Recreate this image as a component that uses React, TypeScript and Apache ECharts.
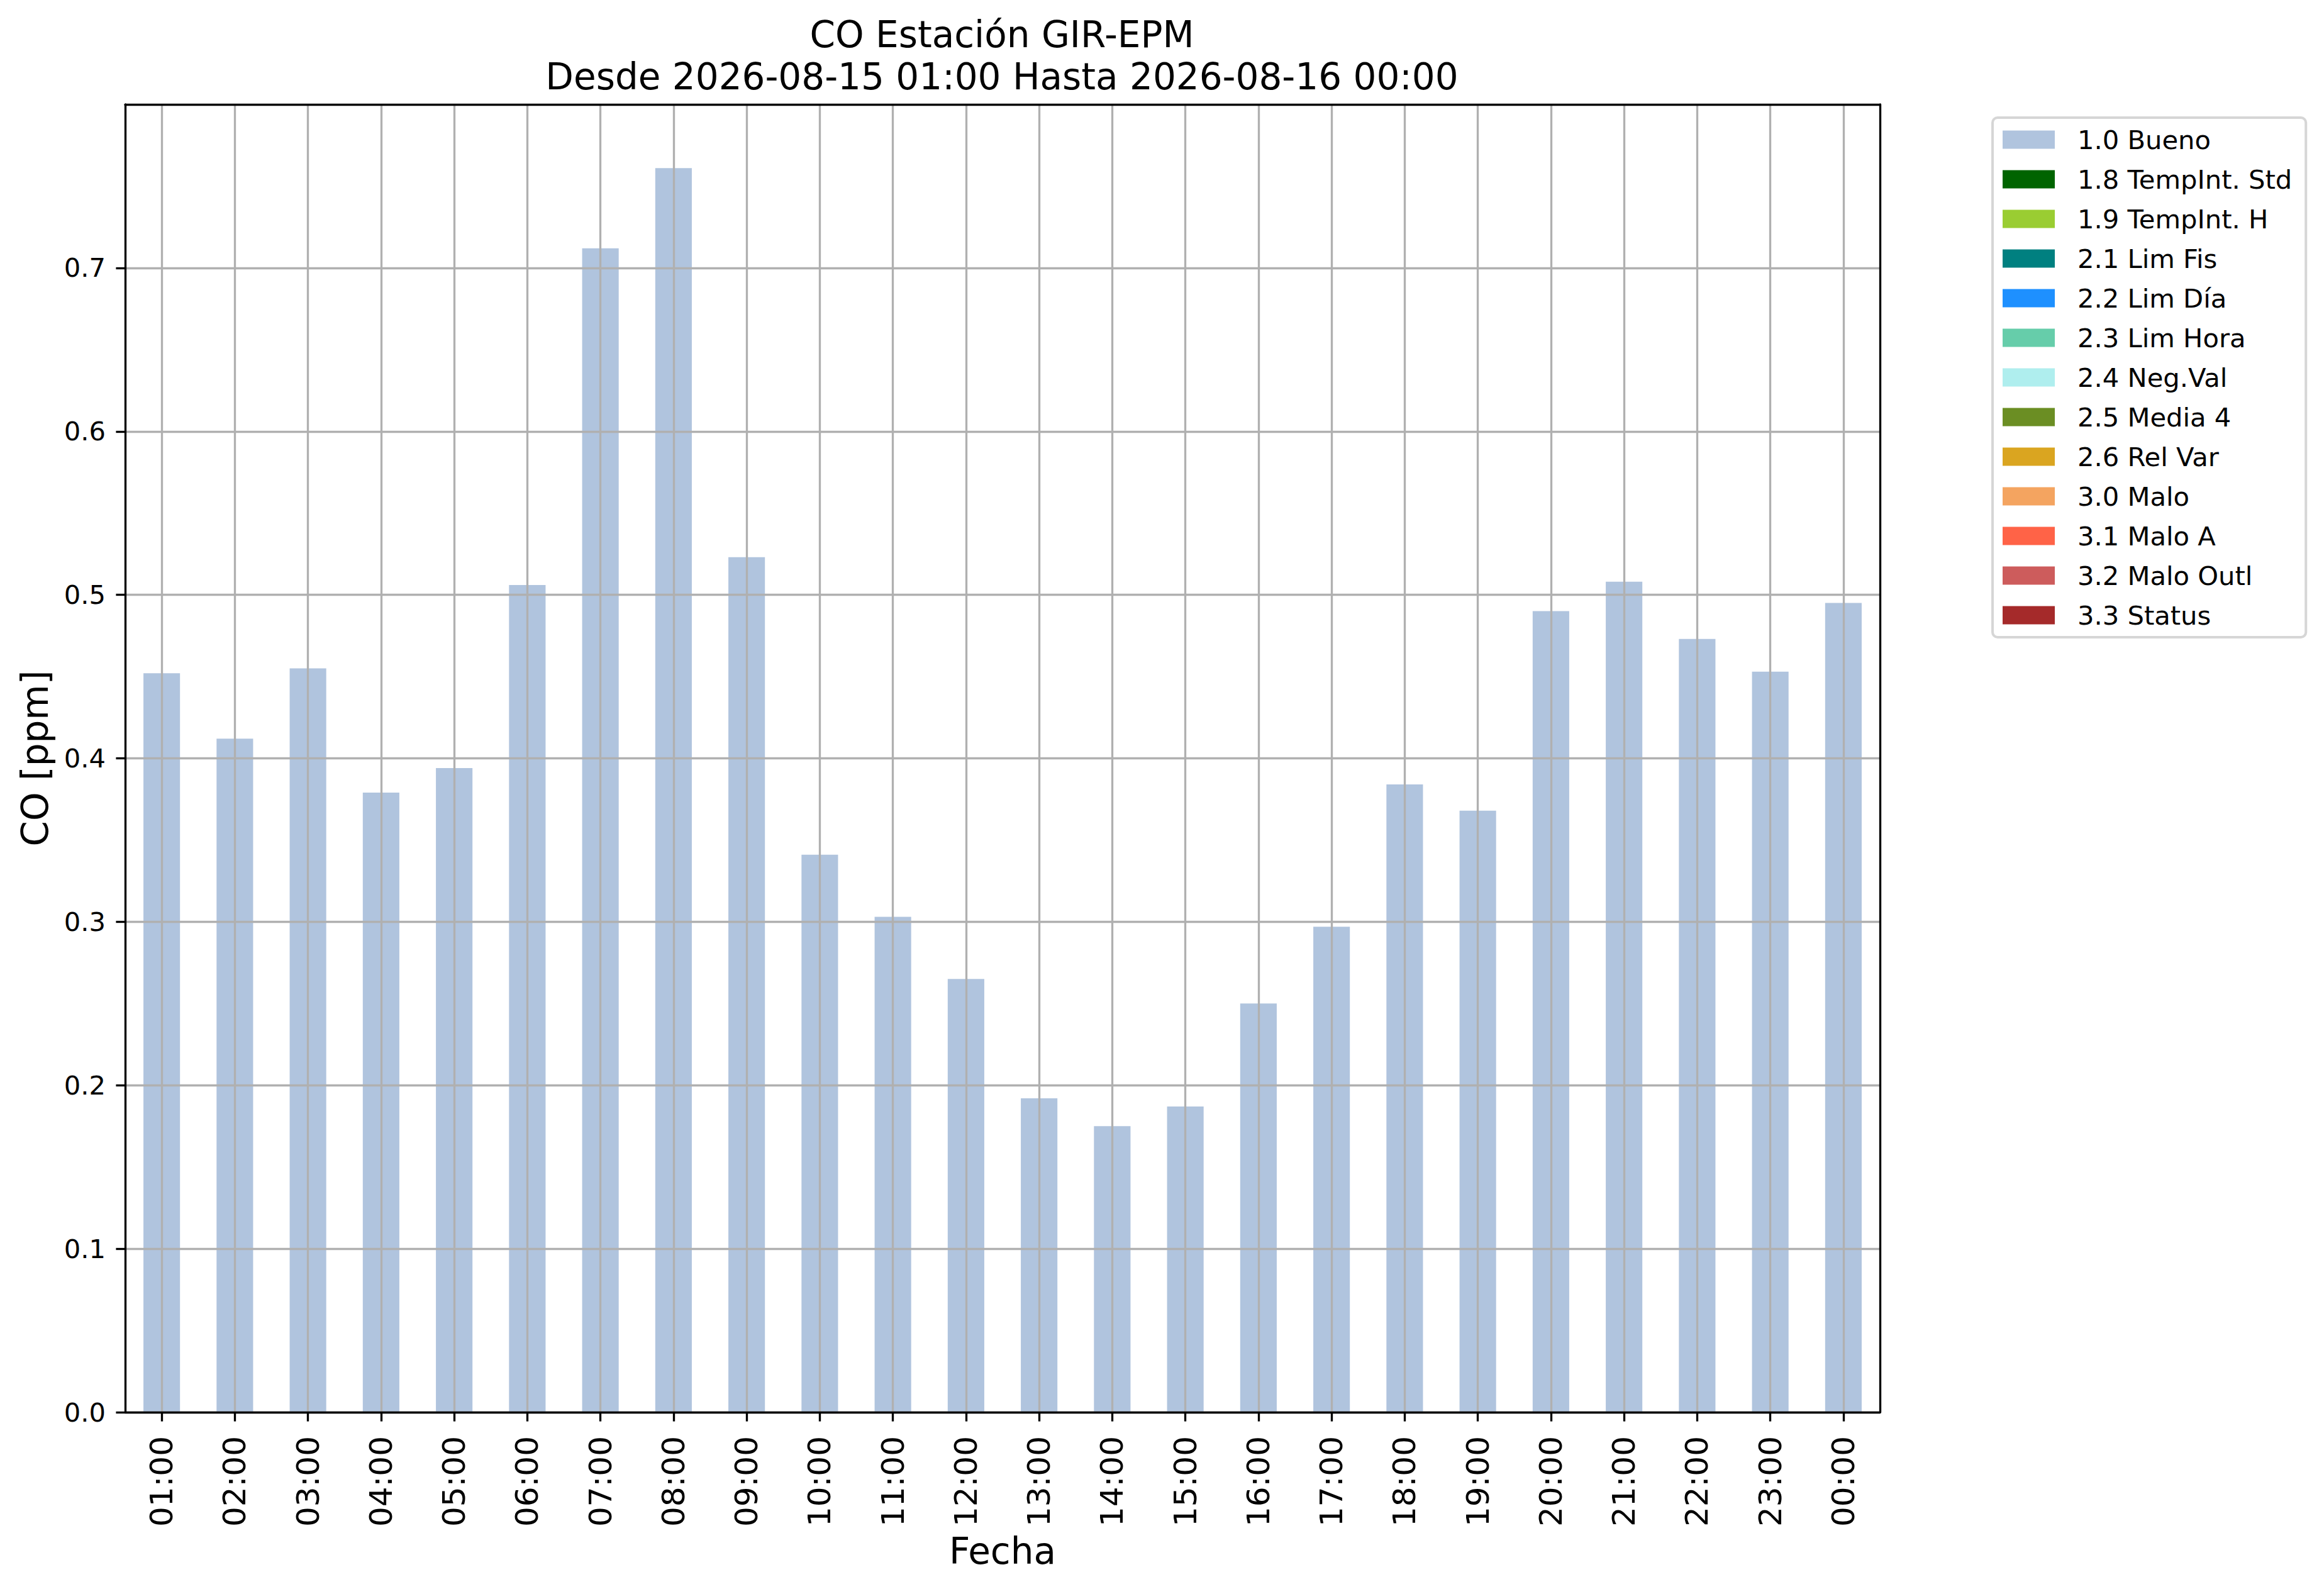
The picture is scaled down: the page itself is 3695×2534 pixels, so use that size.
import React, { useEffect, useRef } from 'react';
import * as echarts from 'echarts';

const hours = [
  '01:00', '02:00', '03:00', '04:00', '05:00', '06:00', '07:00', '08:00',
  '09:00', '10:00', '11:00', '12:00', '13:00', '14:00', '15:00', '16:00',
  '17:00', '18:00', '19:00', '20:00', '21:00', '22:00', '23:00', '00:00',
];

const bueno = [
  0.452, 0.412, 0.455, 0.379, 0.394, 0.506, 0.712, 0.761,
  0.523, 0.341, 0.303, 0.265, 0.192, 0.175, 0.187, 0.250,
  0.297, 0.384, 0.368, 0.490, 0.508, 0.473, 0.453, 0.495,
];

const flagNames = [
  '1.0 Bueno', '1.8 TempInt. Std', '1.9 TempInt. H', '2.1 Lim Fis', '2.2 Lim Día',
  '2.3 Lim Hora', '2.4 Neg.Val', '2.5 Media 4', '2.6 Rel Var', '3.0 Malo',
  '3.1 Malo A', '3.2 Malo Outl', '3.3 Status',
];

const flagColors = [
  '#b0c4de', '#006400', '#9acd32', '#008080', '#1e90ff',
  '#66cdaa', '#afeeee', '#6b8e23', '#daa520', '#f4a460',
  '#ff6347', '#cd5c5c', '#a52a2a',
];

const yTicks = [0, 0.1, 0.2, 0.3, 0.4, 0.5, 0.6, 0.7];

const FONT = 'DejaVu Sans';

export default function App() {
  const ref = useRef<HTMLDivElement>(null);

  useEffect(() => {
    if (!ref.current) return;
    const chart = echarts.init(ref.current, null, { renderer: 'svg' });

    const series = flagNames.map((name, i) => ({
      name,
      type: 'bar',
      stack: 'flags',
      barWidth: '50%',
      xAxisIndex: 0,
      yAxisIndex: 0,
      data: i === 0 ? bueno : hours.map(() => null),
      itemStyle: { color: flagColors[i] },
      emphasis: { disabled: true },
      z: 2,
    }));

    const frameLine = { show: true, onZero: false, lineStyle: { color: '#000000', width: 3.33 } };

    chart.setOption({
      animation: false,
      backgroundColor: '#ffffff',
      title: {
        text: 'CO Estación GIR-EPM\nDesde 2026-08-15 01:00 Hasta 2026-08-16 00:00',
        left: 1593,
        top: 21,
        padding: 0,
        textAlign: 'center',
        textStyle: {
          fontFamily: FONT,
          fontSize: 58,
          lineHeight: 67,
          fontWeight: 'normal',
          color: '#000000',
        },
      },
      legend: {
        orient: 'vertical',
        left: 3168,
        top: 187,
        padding: [14, 22, 14, 16],
        itemGap: 21,
        itemWidth: 83,
        itemHeight: 29,
        icon: 'rect',
        borderColor: '#d6d6d6',
        borderWidth: 4,
        borderRadius: 8,
        backgroundColor: '#ffffff',
        selectedMode: false,
        data: flagNames,
        textStyle: {
          fontFamily: FONT,
          fontSize: 41.67,
          lineHeight: 42,
          color: '#000000',
          padding: [0, 0, 0, 31],
        },
      },
      grid: {
        left: 199,
        right: 3695 - 2989,
        top: 166,
        bottom: 2534 - 2245,
        show: false,
      },
      xAxis: [
        {
          type: 'category',
          data: hours,
          boundaryGap: true,
          z: 11,
          name: 'Fecha',
          nameLocation: 'middle',
          nameGap: 192,
          nameTextStyle: { fontFamily: FONT, fontSize: 58, color: '#000000' },
          axisLine: frameLine,
          axisTick: { show: true, alignWithLabel: true, length: 14.6, lineStyle: { color: '#000000', width: 3.33 } },
          axisLabel: {
            rotate: 90,
            interval: 0,
            margin: 38,
            fontFamily: FONT,
            fontSize: 50,
            color: '#000000',
          },
          splitLine: {
            show: true,
            alignWithLabel: true,
            lineStyle: { color: '#b0b0b0', width: 3.33 },
          },
        },
        {
          type: 'category',
          data: hours,
          position: 'top',
          z: 12,
          axisLine: frameLine,
          axisTick: { show: false },
          axisLabel: { show: false },
          splitLine: { show: false },
        },
      ],
      yAxis: [
        {
          type: 'value',
          min: 0,
          max: 0.8,
          interval: 0.1,
          z: 10,
          name: 'CO [ppm]',
          nameLocation: 'middle',
          nameGap: 114,
          nameTextStyle: { fontFamily: FONT, fontSize: 58, color: '#000000' },
          axisLine: frameLine,
          axisTick: {
            show: true,
            length: 14.6,
            customValues: yTicks,
            lineStyle: { color: '#000000', width: 3.33 },
          },
          axisLabel: {
            margin: 31,
            fontFamily: FONT,
            fontSize: 41.67,
            color: '#000000',
            customValues: yTicks,
            formatter: (v: number) => v.toFixed(1),
          },
          splitLine: {
            show: true,
            lineStyle: { color: '#b0b0b0', width: 3.33 },
          },
        },
        {
          type: 'value',
          min: 0,
          max: 0.8,
          interval: 0.1,
          position: 'right',
          z: 12,
          axisLine: frameLine,
          axisTick: { show: false },
          axisLabel: { show: false },
          splitLine: { show: false },
        },
      ],
      series,
    });

    return () => {
      chart.dispose();
    };
  }, []);

  return (
    <div
      ref={ref}
      style={{
        position: 'fixed',
        left: 0,
        top: 0,
        width: 3695,
        height: 2534,
        background: '#ffffff',
      }}
    />
  );
}
